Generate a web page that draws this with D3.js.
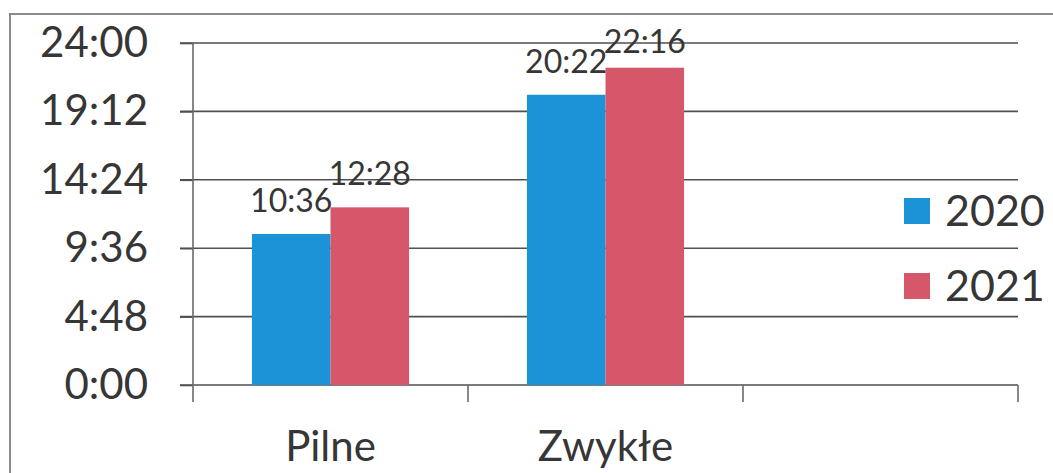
<!DOCTYPE html>
<html>
<head>
<meta charset="utf-8">
<script src="https://cdn.jsdelivr.net/npm/d3@7"></script>
<style>
  body { margin: 0; background: #fff; }
  svg { display: block; font-family: Lato, "Open Sans", sans-serif; }
</style>
</head>
<body>
<svg></svg>
<script>
// categories (third slot is empty in the original chart)
var categories = ["Pilne", "Zwykłe", ""];
var series = ["2020", "2021"];
// values in minutes, labels as shown
var values2020 = [636, 1222, null];
var values2021 = [748, 1336, null];
var labels2020 = ["10:36", "20:22"];
var labels2021 = ["12:28", "22:16"];
var yTicks = [0, 288, 576, 864, 1152, 1440];
var yTickLabels = ["0:00", "4:48", "9:36", "14:24", "19:12", "24:00"];
var colors = ["#1d93d7", "#d6566a"];

var svgWidth = 1053;
var svgHeight = 473;
var plotLeft = 193, plotRight = 1018, plotTop = 43, plotBottom = 385;
var textColor = "#363636";
var lineColor = "#505050";

var svg = d3.select("svg")
    .attr("width", svgWidth)
    .attr("height", svgHeight);

// outer chart border (runs off the right / bottom of the scan)
svg.append("rect")
    .attr("x", 10).attr("y", 14)
    .attr("width", 1100).attr("height", 500)
    .attr("fill", "none")
    .attr("stroke", "#8a8a8a")
    .attr("stroke-width", 2);

var xScale = d3.scaleBand()
    .domain(categories)
    .range([plotLeft, plotRight])
    .padding(0);

var inner = d3.scaleBand()
    .domain(series)
    .range([0, xScale.bandwidth()])
    .paddingInner(0)
    .paddingOuter(0.75);

var yScale = d3.scaleLinear()
    .domain([0, 1440])
    .range([plotBottom, plotTop]);

// gridlines
svg.append("g")
    .selectAll("line")
    .data(yTicks)
    .enter()
    .append("line")
    .attr("x1", plotLeft - 13)
    .attr("x2", plotRight)
    .attr("y1", function(d) { return yScale(d); })
    .attr("y2", function(d) { return yScale(d); })
    .attr("stroke", lineColor)
    .attr("stroke-width", 1.6);

var yAxis = d3.axisLeft(yScale)
    .tickValues(yTicks)
    .tickFormat(function(d, i) { return yTickLabels[i]; })
    .tickSize(13)
    .tickPadding(32);

var gy = svg.append("g")
    .attr("transform", "translate(" + plotLeft + ",0)")
    .call(yAxis);
gy.select(".domain").remove();
gy.selectAll("line").attr("stroke", lineColor).attr("stroke-width", 1.6);
gy.selectAll("text")
    .attr("fill", textColor)
    .style("font-size", "42px")
    .attr("font-family", "Lato, 'Open Sans', sans-serif");

svg.append("line")
    .attr("x1", plotLeft).attr("x2", plotLeft)
    .attr("y1", plotTop).attr("y2", plotBottom)
    .attr("stroke", "#6a6a6a")
    .attr("stroke-width", 1.6);

// category axis: ticks at band boundaries
var boundaries = categories.map(function(c) { return xScale(c); }).concat([plotRight]);
svg.append("g")
    .selectAll("line")
    .data(boundaries)
    .enter()
    .append("line")
    .attr("x1", function(d) { return d; })
    .attr("x2", function(d) { return d; })
    .attr("y1", plotBottom)
    .attr("y2", plotBottom + 17)
    .attr("stroke", "#6a6a6a")
    .attr("stroke-width", 1.6);

svg.append("g")
    .selectAll("text")
    .data(categories)
    .enter()
    .append("text")
    .attr("x", function(d) { return xScale(d) + xScale.bandwidth() / 2; })
    .attr("y", 461)
    .attr("text-anchor", "middle")
    .attr("fill", textColor)
    .style("font-size", "42px")
    .text(function(d) { return d; });

// bars
var allValues = [values2020, values2021];
var allLabels = [labels2020, labels2021];
series.forEach(function(s, si) {
    var rows = categories.map(function(c, ci) {
        return { cat: c, v: allValues[si][ci], label: allLabels[si][ci] };
    }).filter(function(r) { return r.v != null; });

    svg.append("g")
        .selectAll("rect")
        .data(rows)
        .enter()
        .append("rect")
        .attr("x", function(d) { return xScale(d.cat) + inner(s); })
        .attr("y", function(d) { return yScale(d.v); })
        .attr("width", inner.bandwidth())
        .attr("height", function(d) { return plotBottom - yScale(d.v); })
        .attr("fill", colors[si]);

    svg.append("g")
        .selectAll("text")
        .data(rows)
        .enter()
        .append("text")
        .attr("x", function(d) { return xScale(d.cat) + inner(s) + inner.bandwidth() / 2; })
        .attr("y", function(d) { return Math.max(yScale(d.v) - 22, 53); })
        .attr("text-anchor", "middle")
        .attr("fill", textColor)
        .style("font-size", "32px")
        .text(function(d) { return d.label; });
});

// legend
var legend = svg.append("g")
    .selectAll("g")
    .data(series)
    .enter()
    .append("g")
    .attr("transform", function(d, i) { return "translate(904," + (198 + i * 75) + ")"; });

legend.append("rect")
    .attr("width", 26)
    .attr("height", 26)
    .attr("fill", function(d, i) { return colors[i]; });

legend.append("text")
    .attr("x", 41)
    .attr("y", 28)
    .attr("fill", textColor)
    .style("font-size", "43px")
    .text(function(d) { return d; });
</script>
</body>
</html>
